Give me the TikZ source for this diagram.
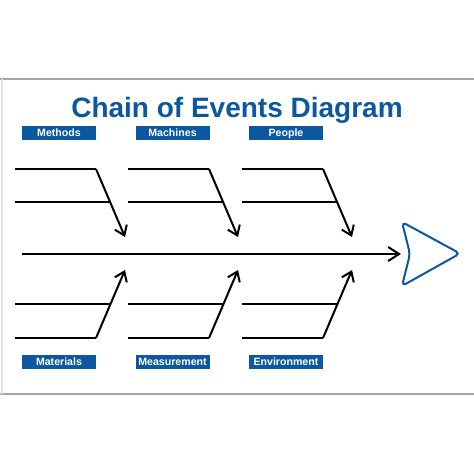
\documentclass[tikz,border=0pt]{standalone}
\usepackage{fontspec}
\setmainfont{Liberation Sans}
\usetikzlibrary{arrows.meta}
\definecolor{signblue}{RGB}{12,88,160}
\begin{document}
\begin{tikzpicture}[x=1pt,y=-1pt,inner sep=0pt,outer sep=0pt,line width=2pt,
catblock/.style={fill=signblue,text=white,minimum width=74pt,minimum height=14pt,text height=7.6pt,text depth=1.2pt,font=\bfseries\fontsize{10.6}{12}\selectfont},
bone/.style={-{Straight Barb[length=9pt,width=13pt]}}]
\useasboundingbox (0,0) rectangle (474,474);
% sign edges
\draw[gray!70,line width=1.5pt] (0,79) -- (474,79);
\draw[gray!70,line width=1.5pt] (0,394) -- (474,394);
\draw[gray!20,line width=1.5pt] (2,79) -- (2,394);
\node[anchor=base,text=signblue,font=\bfseries\fontsize{28}{30}\selectfont] (title) at (237,117) {Chain of Events Diagram};
\node[catblock] (methods) at (59,133) {Methods};
\node[catblock] (machines) at (172.5,133) {Machines};
\node[catblock] (people) at (286,133) {People};
\node[catblock] (materials) at (59,362) {Materials};
\node[catblock] (measure) at (172.5,362) {Measurement};
\node[catblock] (environ) at (286,362) {Environment};
% bones
\foreach \dx/\n in {0/a,113/b,227/c}{
  \coordinate (ua\n) at (15+\dx,169);  \coordinate (uc\n) at (96+\dx,169);
  \coordinate (ub\n) at (15+\dx,202);  \coordinate (ux\n) at (110.5+\dx,202);
  \coordinate (ut\n) at (125+\dx,237);
  \draw (ua\n) -- (uc\n);
  \draw (ub\n) -- (ux\n);
  \draw[bone] (uc\n) -- (ut\n);
  \coordinate (la\n) at (15+\dx,338);  \coordinate (lc\n) at (96+\dx,338);
  \coordinate (lb\n) at (15+\dx,304);  \coordinate (lx\n) at (110.5+\dx,304);
  \coordinate (lt\n) at (125+\dx,270);
  \draw (la\n) -- (lc\n);
  \draw (lb\n) -- (lx\n);
  \draw[bone] (lc\n) -- (lt\n);
}
% spine and head
\coordinate (tail) at (22,254);
\coordinate (head) at (401,254);
\draw[-{Straight Barb[length=11pt,width=14pt]}] (tail) -- (head);
\draw[signblue,rounded corners=4.5pt] (402,222) -- (460,253.5) -- (402,286) -- (410,254) -- cycle;
\end{tikzpicture}
\end{document}
